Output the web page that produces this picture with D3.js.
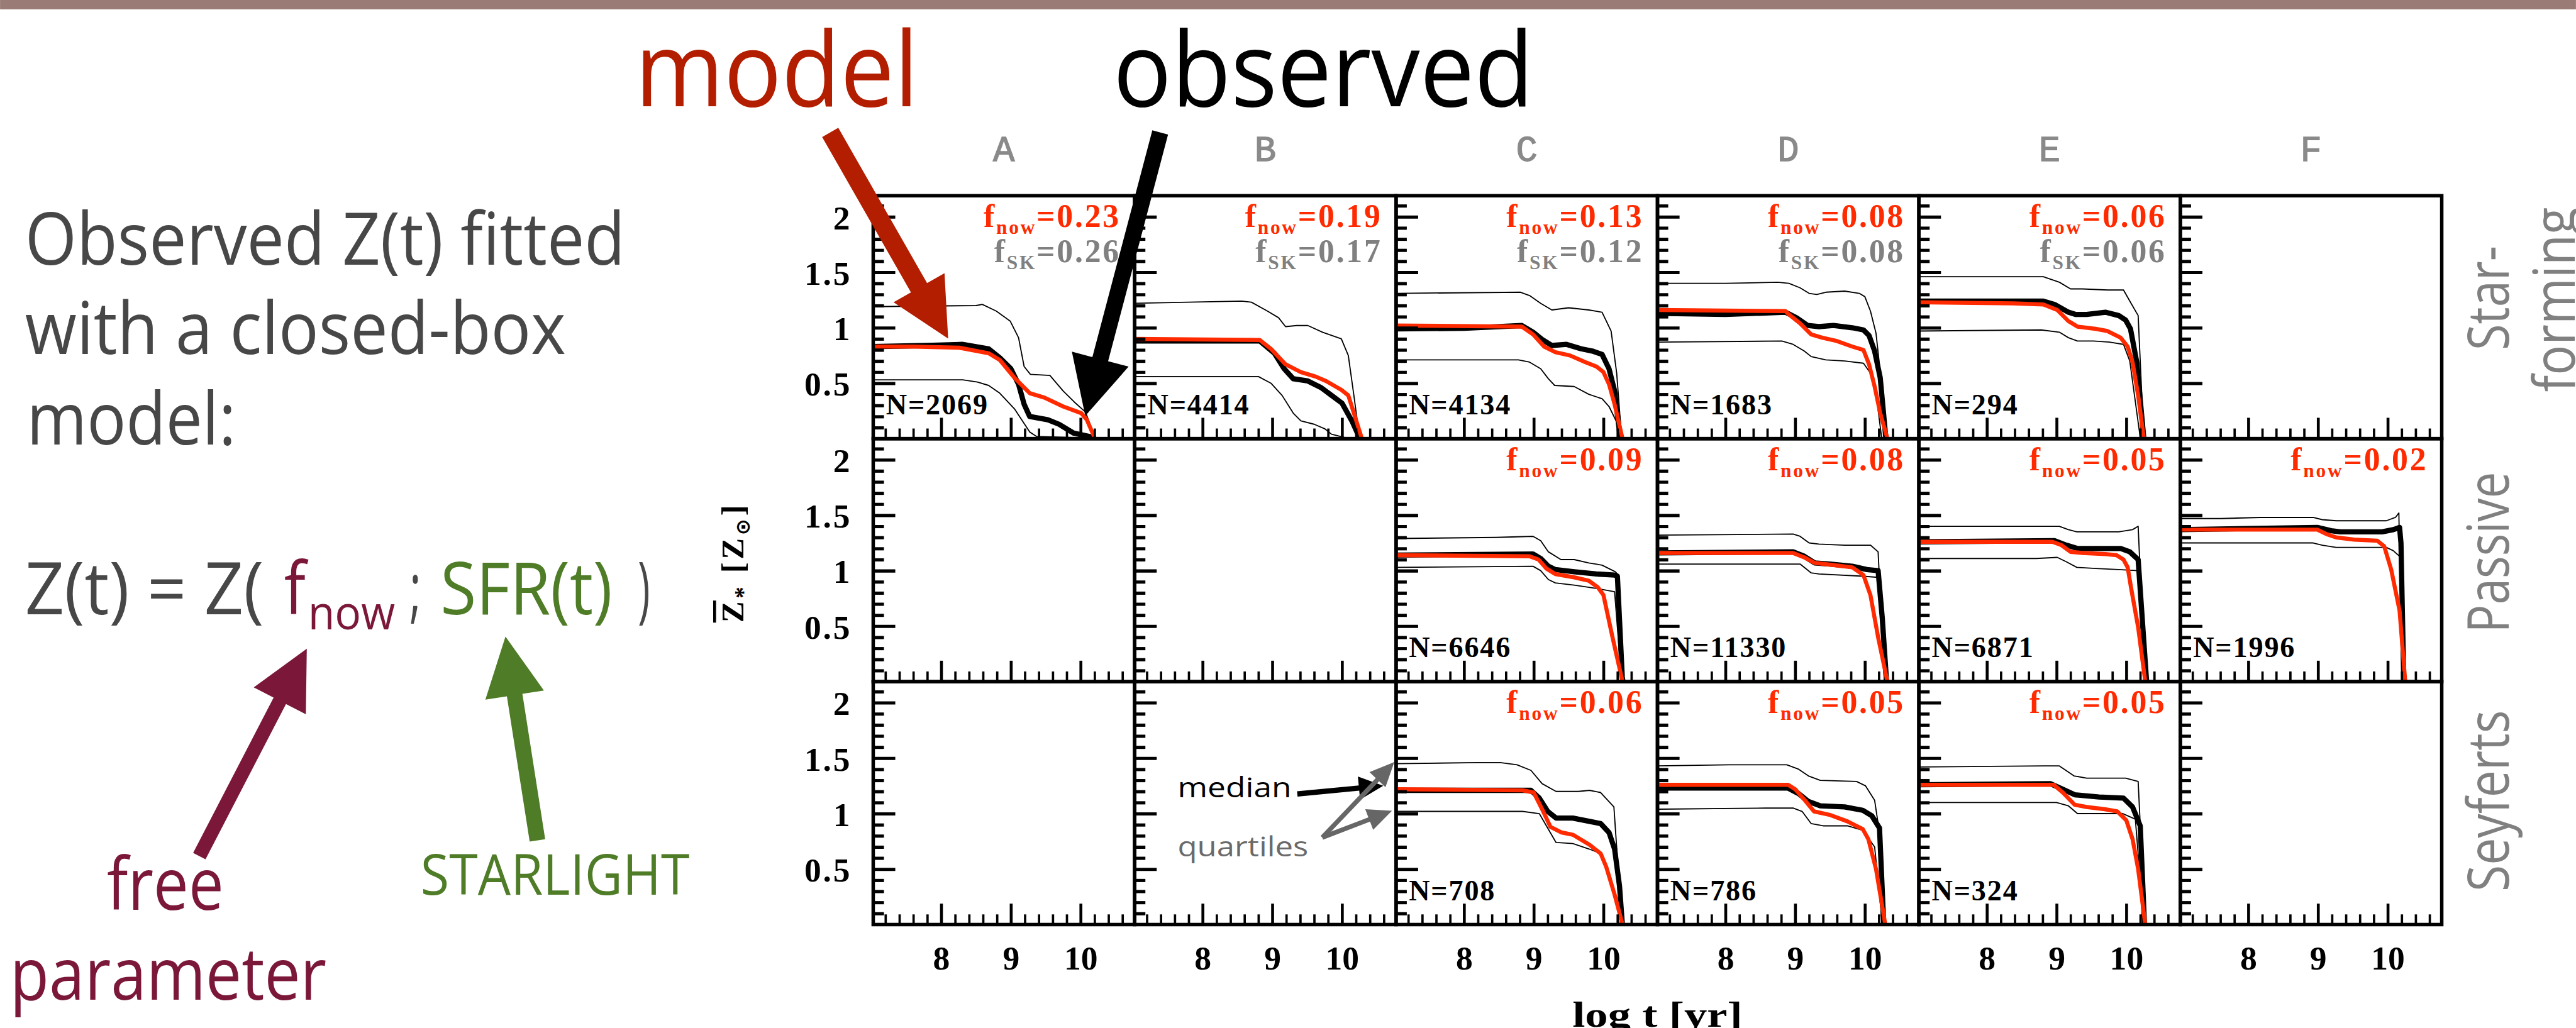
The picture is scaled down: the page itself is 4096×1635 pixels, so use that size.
<!DOCTYPE html>
<html>
<head>
<meta charset="utf-8">
<script src="https://cdn.jsdelivr.net/npm/d3@7"></script>
<style>
  body { margin: 0; background: #fff; }
  svg { display: block; }
</style>
</head>
<body>
<div id="chart"></div>
<script>
// column / row names
var colLabels = ['A', 'B', 'C', 'D', 'E', 'F'];
var rowLabels = [['Star-', 'forming'], ['Passive'], ['Seyferts']];

// fitted fractions and sample sizes, null = empty panel
var fNow = [[0.23, 0.19, 0.13, 0.08, 0.06, null],
            [null, null, 0.09, 0.08, 0.05, 0.02],
            [null, null, 0.06, 0.05, 0.05, null]];
var fSK  = [[0.26, 0.17, 0.12, 0.08, 0.06, null],
            [null, null, null, null, null, null],
            [null, null, null, null, null, null]];
var nGal = [[2069, 4414, 4134, 1683, 294, null],
            [null, null, 6646, 11330, 6871, 1996],
            [null, null, 708, 786, 324, null]];

var xMajor = [8, 9, 10];
var yMajor = [0.5, 1, 1.5, 2];

// [log t, Z]
// star-forming row
var sfA_q75 = [[7.02,1.19],[8.5,1.2],[8.59,1.21],[8.79,1.15],[8.99,1.06],[9.11,0.91],[9.19,0.65],[9.28,0.58],[9.56,0.57],[9.75,0.43],[9.91,0.33],[10.07,0.24],[10.2,0.02]];
var sfA_med = [[7.02,0.83],[7.8,0.84],[8.3,0.85],[8.68,0.81],[8.84,0.73],[9.0,0.63],[9.11,0.49],[9.19,0.31],[9.27,0.2],[9.53,0.17],[9.69,0.13],[9.9,0.05],[10.12,0.02],[10.2,0.01]];
var sfA_mod = [[7.02,0.83],[7.6,0.83],[8.26,0.82],[8.68,0.77],[8.84,0.71],[9.05,0.55],[9.27,0.41],[9.48,0.37],[9.75,0.29],[10.01,0.23],[10.09,0.17],[10.2,0.01]];
var sfA_q25 = [[7.02,0.53],[8.31,0.53],[8.52,0.51],[8.68,0.48],[8.84,0.41],[9.05,0.27],[9.27,0.06],[9.37,0.02],[9.9,0.01]];

var sfB_q75 = [[7.02,1.22],[8.56,1.24],[8.7,1.23],[8.93,1.15],[9.09,1.09],[9.19,1.01],[9.35,1.02],[9.51,1.02],[9.72,0.96],[9.99,0.9],[10.09,0.75],[10.17,0.39],[10.25,0.01]];
var sfB_med = [[7.02,0.88],[8.82,0.88],[9.03,0.77],[9.17,0.63],[9.3,0.54],[9.51,0.52],[9.7,0.46],[9.85,0.39],[10.0,0.32],[10.15,0.15],[10.25,0.01]];
var sfB_mod = [[7.02,0.9],[8.82,0.89],[8.98,0.81],[9.19,0.67],[9.41,0.6],[9.62,0.56],[9.77,0.52],[9.99,0.44],[10.09,0.39],[10.17,0.23],[10.28,0.01]];
var sfB_q25 = [[7.02,0.56],[8.8,0.56],[8.98,0.5],[9.14,0.39],[9.3,0.23],[9.41,0.16],[9.6,0.13],[9.75,0.09],[9.85,0.04],[10.04,0.01],[10.2,0.005]];

var sfC_q75 = [[7.02,1.31],[8.81,1.32],[8.94,1.29],[9.1,1.22],[9.26,1.16],[9.5,1.18],[9.79,1.16],[9.98,1.14],[10.11,0.97],[10.19,0.59],[10.26,0.01]];
var sfC_med = [[7.02,0.99],[8.0,0.995],[8.83,1.02],[8.99,0.96],[9.13,0.89],[9.26,0.84],[9.47,0.85],[9.68,0.81],[9.84,0.79],[9.98,0.76],[10.08,0.63],[10.16,0.43],[10.24,0.01]];
var sfC_mod = [[7.02,1.02],[8.83,1.01],[8.99,0.94],[9.15,0.83],[9.31,0.78],[9.52,0.75],[9.74,0.69],[9.9,0.65],[10.0,0.6],[10.08,0.49],[10.16,0.31],[10.27,0.01]];
var sfC_q25 = [[7.02,0.71],[8.78,0.71],[8.94,0.69],[9.1,0.63],[9.21,0.54],[9.3,0.48],[9.58,0.47],[9.79,0.4],[9.98,0.36],[10.08,0.29],[10.19,0.15],[10.26,0.01]];

var sfD_q75 = [[7.02,1.4],[8.0,1.4],[8.75,1.41],[8.91,1.4],[9.07,1.36],[9.2,1.31],[9.31,1.3],[9.44,1.32],[9.71,1.33],[9.92,1.31],[10.0,1.28],[10.08,1.15],[10.16,0.95],[10.24,0.49],[10.3,0.01]];
var sfD_med = [[7.02,1.13],[8.0,1.12],[8.86,1.14],[9.02,1.09],[9.18,1.02],[9.34,1.01],[9.55,1.02],[9.82,1.0],[9.98,0.98],[10.06,0.93],[10.14,0.79],[10.22,0.55],[10.3,0.01]];
var sfD_mod = [[7.02,1.16],[8.86,1.15],[8.91,1.12],[9.07,1.04],[9.23,0.94],[9.39,0.91],[9.6,0.88],[9.82,0.83],[9.98,0.8],[10.06,0.67],[10.14,0.47],[10.22,0.23],[10.32,0.01]];
var sfD_q25 = [[7.02,0.87],[8.81,0.88],[8.97,0.85],[9.13,0.79],[9.23,0.74],[9.44,0.71],[9.71,0.7],[9.98,0.68],[10.08,0.59],[10.16,0.41],[10.24,0.01]];

var sfE_q75 = [[7.02,1.46],[8.81,1.46],[9.04,1.41],[9.2,1.35],[9.37,1.35],[9.73,1.34],[9.96,1.34],[10.06,1.23],[10.17,1.11],[10.25,0.01]];
var sfE_med = [[7.02,1.24],[8.81,1.24],[8.97,1.21],[9.17,1.14],[9.27,1.12],[9.43,1.12],[9.7,1.14],[9.89,1.11],[9.99,1.07],[10.06,0.99],[10.15,0.69],[10.25,0.01]];
var sfE_mod = [[7.02,1.23],[8.38,1.22],[8.81,1.21],[9.01,1.16],[9.17,1.06],[9.3,1.01],[9.56,0.99],[9.73,0.97],[9.92,0.91],[10.02,0.83],[10.09,0.69],[10.17,0.39],[10.25,0.01]];
var sfE_q25 = [[7.02,0.97],[8.78,0.98],[9.04,0.96],[9.17,0.91],[9.3,0.88],[9.53,0.88],[9.76,0.87],[9.96,0.85],[10.05,0.7],[10.2,0.01]];

// passive row
var paC_q75 = [[7.02,1.29],[8.46,1.3],[8.99,1.31],[9.1,1.27],[9.21,1.17],[9.39,1.1],[9.58,1.1],[9.79,1.07],[9.98,1.05],[10.17,0.99],[10.2,0.97],[10.26,0.01]];
var paC_med = [[7.02,1.14],[8.99,1.15],[9.1,1.11],[9.21,1.04],[9.31,1.01],[9.58,0.99],[9.9,0.97],[10.16,0.96],[10.2,0.95],[10.27,0.04],[10.28,0.0]];
var paC_mod = [[7.02,1.14],[8.94,1.13],[9.07,1.1],[9.18,1.02],[9.31,0.97],[9.58,0.94],[9.79,0.91],[9.92,0.85],[10.0,0.78],[10.13,0.4],[10.27,0.01]];
var paC_q25 = [[7.02,1.03],[8.99,1.04],[9.1,1.0],[9.21,0.92],[9.31,0.89],[9.58,0.87],[9.9,0.84],[10.16,0.81],[10.26,0.01]];

var paD_q75 = [[7.02,1.32],[8.97,1.33],[9.07,1.31],[9.2,1.25],[9.34,1.24],[9.71,1.23],[10.08,1.23],[10.19,1.17],[10.28,0.01]];
var paD_med = [[7.02,1.16],[8.97,1.17],[9.13,1.13],[9.28,1.07],[9.5,1.06],[9.82,1.04],[10.03,1.01],[10.19,1.0],[10.25,0.57],[10.31,0.01]];
var paD_mod = [[7.02,1.16],[8.97,1.16],[9.13,1.12],[9.28,1.07],[9.55,1.05],[9.82,1.03],[9.98,0.96],[10.08,0.78],[10.19,0.4],[10.32,0.01]];
var paD_q25 = [[7.02,1.06],[9.07,1.06],[9.23,0.98],[9.34,0.97],[9.98,0.95],[10.19,0.94],[10.28,0.01]];

var paE_q75 = [[7.02,1.4],[8.1,1.4],[9.04,1.4],[9.17,1.37],[9.29,1.35],[9.89,1.35],[10.09,1.37],[10.17,1.4],[10.27,0.01]];
var paE_med = [[7.02,1.26],[8.97,1.27],[9.14,1.23],[9.3,1.2],[9.56,1.2],[9.92,1.2],[10.05,1.17],[10.17,1.1],[10.29,0.01]];
var paE_mod = [[7.02,1.26],[8.94,1.26],[9.07,1.23],[9.2,1.17],[9.37,1.16],[9.7,1.15],[9.86,1.14],[9.96,1.1],[10.02,1.03],[10.07,0.84],[10.17,0.49],[10.27,0.01]];
var paE_q25 = [[7.02,1.11],[8.71,1.11],[9.01,1.12],[9.14,1.08],[9.29,1.03],[9.56,1.02],[9.89,1.01],[10.17,1.0],[10.27,0.01]];

var paF_q75 = [[7.02,1.47],[7.61,1.47],[8.17,1.48],[8.93,1.48],[9.06,1.46],[9.26,1.45],[9.98,1.45],[10.11,1.48],[10.16,1.52],[10.17,1.13],[10.25,0.01]];
var paF_med = [[7.02,1.37],[8.99,1.39],[9.19,1.36],[9.32,1.35],[9.92,1.35],[10.08,1.37],[10.17,1.39],[10.19,1.25],[10.23,0.01]];
var paF_mod = [[7.02,1.37],[8.99,1.37],[9.12,1.33],[9.26,1.3],[9.52,1.28],[9.85,1.27],[9.95,1.22],[10.05,1.01],[10.17,0.64],[10.25,0.01]];
var paF_q25 = [[7.02,1.25],[8.93,1.25],[9.06,1.23],[9.26,1.21],[9.98,1.21],[10.08,1.18],[10.17,1.13],[10.22,0.01]];

// seyfert row
var syC_q75 = [[7.02,1.45],[8.2,1.46],[8.52,1.46],[8.76,1.44],[8.96,1.39],[9.12,1.27],[9.32,1.2],[9.64,1.2],[9.8,1.21],[9.96,1.19],[10.15,1.06],[10.2,0.6],[10.26,0.01]];
var syC_med = [[7.02,1.21],[8.96,1.21],[9.08,1.14],[9.2,1.02],[9.32,0.96],[9.56,0.96],[9.8,0.93],[9.96,0.91],[10.08,0.83],[10.16,0.68],[10.23,0.35],[10.27,0.01]];
var syC_mod = [[7.02,1.22],[8.84,1.21],[9.0,1.19],[9.12,1.04],[9.24,0.88],[9.4,0.83],[9.56,0.81],[9.8,0.72],[9.96,0.64],[10.04,0.52],[10.16,0.27],[10.27,0.01]];
var syC_q25 = [[7.02,1.02],[8.84,1.02],[9.08,1.0],[9.2,0.87],[9.32,0.74],[9.56,0.73],[9.8,0.68],[9.96,0.64],[10.1,0.4],[10.25,0.01]];

var syD_q75 = [[7.02,1.43],[8.06,1.44],[8.88,1.44],[9.05,1.4],[9.19,1.34],[9.36,1.3],[9.88,1.29],[10.01,1.25],[10.14,1.12],[10.19,0.91],[10.27,0.01]];
var syD_med = [[7.02,1.23],[8.9,1.23],[9.05,1.18],[9.19,1.11],[9.36,1.07],[9.71,1.06],[9.97,1.03],[10.1,0.98],[10.21,0.87],[10.27,0.01]];
var syD_mod = [[7.02,1.26],[8.9,1.26],[9.0,1.22],[9.14,1.12],[9.27,1.02],[9.49,0.99],[9.75,0.93],[9.97,0.86],[10.05,0.77],[10.16,0.5],[10.29,0.01]];
var syD_q25 = [[7.02,1.04],[8.58,1.05],[8.97,1.05],[9.1,1.02],[9.23,0.91],[9.4,0.89],[9.75,0.89],[9.97,0.85],[10.14,0.7],[10.25,0.01]];

var syE_q75 = [[7.02,1.42],[8.82,1.43],[9.04,1.43],[9.25,1.34],[9.43,1.32],[9.99,1.32],[10.17,1.29],[10.2,0.9],[10.26,0.01]];
var syE_med = [[7.02,1.26],[8.91,1.27],[9.09,1.22],[9.26,1.17],[9.61,1.15],[9.96,1.14],[10.09,1.06],[10.2,0.89],[10.26,0.01]];
var syE_mod = [[7.02,1.26],[8.96,1.26],[9.09,1.19],[9.26,1.08],[9.43,1.06],[9.69,1.04],[9.87,1.02],[10.0,0.94],[10.09,0.77],[10.17,0.5],[10.27,0.01]];
var syE_q25 = [[7.02,1.1],[9.0,1.1],[9.17,1.07],[9.3,1.0],[9.95,1.0],[10.13,0.95],[10.25,0.01]];

// lookup "row-col" -> [q25, q75, median, model]
var curves = {
  '0-0': [sfA_q25, sfA_q75, sfA_med, sfA_mod],
  '0-1': [sfB_q25, sfB_q75, sfB_med, sfB_mod],
  '0-2': [sfC_q25, sfC_q75, sfC_med, sfC_mod],
  '0-3': [sfD_q25, sfD_q75, sfD_med, sfD_mod],
  '0-4': [sfE_q25, sfE_q75, sfE_med, sfE_mod],
  '1-2': [paC_q25, paC_q75, paC_med, paC_mod],
  '1-3': [paD_q25, paD_q75, paD_med, paD_mod],
  '1-4': [paE_q25, paE_q75, paE_med, paE_mod],
  '1-5': [paF_q25, paF_q75, paF_med, paF_mod],
  '2-2': [syC_q25, syC_q75, syC_med, syC_mod],
  '2-3': [syD_q25, syD_q75, syD_med, syD_mod],
  '2-4': [syE_q25, syE_q75, syE_med, syE_mod]
};

// layout in reference pixels, viewBox shrinks it to the window
var W = 4434, H = 1770;
var left0 = 1503, top0 = 337, pw = 450, ph = 418.3;
var RED = '#ff2a00', GREY = '#808080';
var serif = '"Liberation Serif", "Times New Roman", serif';
var sans = '"Open Sans", "Noto Sans", sans-serif';

var svg = d3.select('#chart').append('svg')
  .attr('width', 4096).attr('height', 1635)
  .attr('viewBox', '0 0 ' + W + ' ' + H);

svg.append('rect').attr('width', W).attr('height', H).attr('fill', '#fff');
// thin band on top of the slide
svg.append('rect').attr('width', W).attr('height', 16).attr('fill', '#9b7b75');

var x = d3.scaleLinear().domain([7.025, 10.775]).range([0, pw]);
var y = d3.scaleLinear().domain([0, 2.19]).range([ph, 0]);
var line = d3.line().x(function(d){ return x(d[0]); }).y(function(d){ return y(d[1]); });

var xMinor = d3.range(7.2, 10.75, 0.2).filter(function(v){ return Math.abs(v - Math.round(v)) > 0.01; });
var yMinor = d3.range(0.1, 2.15, 0.1).filter(function(v){ return Math.abs(v * 2 - Math.round(v * 2)) > 0.01; });

var defs = svg.append('defs');

// panel label "f_sub=value"
function fLabel(g, yy, sub, val, fill) {
  var t = g.append('text').attr('x', pw - 24).attr('y', yy).attr('text-anchor', 'end')
    .attr('font-family', serif).attr('font-weight', 'bold').attr('fill', fill)
    .attr('letter-spacing', 3);
  t.append('tspan').attr('font-size', 56).text('f');
  t.append('tspan').attr('font-size', 34).attr('dy', 12).text(sub);
  t.append('tspan').attr('font-size', 56).attr('dy', -12).text('=' + val.toFixed(2));
}

for (var r = 0; r < 3; r++) {
  for (var c = 0; c < 6; c++) {
    var g = svg.append('g')
      .attr('transform', 'translate(' + (left0 + c * pw) + ',' + (top0 + r * ph) + ')');
    var clipId = 'clip' + r + c;
    defs.append('clipPath').attr('id', clipId)
      .append('rect').attr('width', pw).attr('height', ph);

    // curves
    var cv = curves[r + '-' + c];
    if (cv) {
      var lg = g.append('g').attr('clip-path', 'url(#' + clipId + ')')
        .attr('fill', 'none').attr('stroke-linejoin', 'round');
      lg.append('path').attr('d', line(cv[0])).attr('stroke', '#000').attr('stroke-width', 2);
      lg.append('path').attr('d', line(cv[1])).attr('stroke', '#000').attr('stroke-width', 2);
      lg.append('path').attr('d', line(cv[2])).attr('stroke', '#000').attr('stroke-width', 9);
      lg.append('path').attr('d', line(cv[3])).attr('stroke', RED).attr('stroke-width', 7);
    }

    // minor ticks
    g.append('g').call(d3.axisLeft(y).tickValues(yMinor).tickSize(-18.5).tickFormat(''))
      .call(function(a){ a.select('.domain').remove(); a.selectAll('line').attr('stroke-width', 5.5); });
    g.append('g').attr('transform', 'translate(0,' + ph + ')')
      .call(d3.axisBottom(x).tickValues(xMinor).tickSize(-17.5).tickFormat(''))
      .call(function(a){ a.select('.domain').remove(); a.selectAll('line').attr('stroke-width', 4); });

    // major ticks, labels only on the outer panels
    var ya = g.append('g').call(d3.axisLeft(y).tickValues(yMajor).tickSize(-38).tickPadding(37)
      .tickFormat(c === 0 ? d3.format('') : ''));
    ya.select('.domain').remove();
    ya.selectAll('line').attr('stroke-width', 5.5);
    ya.selectAll('text').attr('font-family', serif).attr('font-weight', 'bold')
      .attr('font-size', 58).attr('letter-spacing', 3).attr('dy', '0.36em').attr('fill', '#000');

    var xa = g.append('g').attr('transform', 'translate(0,' + ph + ')')
      .call(d3.axisBottom(x).tickValues(xMajor).tickSize(-36).tickPadding(36)
        .tickFormat(r === 2 ? d3.format('') : ''));
    xa.select('.domain').remove();
    xa.selectAll('line').attr('stroke-width', 5);
    xa.selectAll('text').attr('font-family', serif).attr('font-weight', 'bold')
      .attr('font-size', 58).attr('fill', '#000');

    // frame
    g.append('rect').attr('width', pw).attr('height', ph)
      .attr('fill', 'none').attr('stroke', '#000').attr('stroke-width', 6);

    // in-panel labels
    if (fNow[r][c] !== null) fLabel(g, 54, 'now', fNow[r][c], RED);
    if (fSK[r][c] !== null) fLabel(g, 114, 'SK', fSK[r][c], GREY);
    if (nGal[r][c] !== null) {
      g.append('text').attr('x', 22).attr('y', ph - 42)
        .attr('font-family', serif).attr('font-weight', 'bold').attr('font-size', 50)
        .attr('letter-spacing', 2).attr('fill', '#000')
        .text('N=' + nGal[r][c]);
    }
  }
}

// column letters
svg.selectAll('text.col').data(colLabels).enter().append('text')
  .attr('class', 'col')
  .attr('x', function(d, i){ return left0 + i * pw + pw / 2; })
  .attr('y', 277).attr('text-anchor', 'middle')
  .attr('font-family', '"Liberation Mono", "DejaVu Sans Mono", monospace')
  .attr('font-size', 62).attr('fill', '#8a8a8a')
  .attr('stroke', '#8a8a8a').attr('stroke-width', 1.5)
  .text(function(d){ return d; });

// row names on the right
function rotText(px, py, str, len) {
  svg.append('text').attr('transform', 'translate(' + px + ',' + py + ') rotate(-90)')
    .attr('text-anchor', 'middle').attr('font-family', sans).attr('font-size', 100)
    .attr('fill', GREY).attr('textLength', len).attr('lengthAdjust', 'spacingAndGlyphs')
    .text(str);
}
rotText(4318, 513, rowLabels[0][0], 180);
rotText(4432, 516, rowLabels[0][1], 318);
rotText(4318, 951, rowLabels[1][0], 277);
rotText(4318, 1379, rowLabels[2][0], 312);

// axis titles
var yt = svg.append('g').attr('transform', 'translate(1280,966) rotate(-90)');
var ytt = yt.append('text').attr('x', -106).attr('y', 0)
  .attr('font-family', serif).attr('font-weight', 'bold').attr('letter-spacing', 5).attr('fill', '#000');
ytt.append('tspan').attr('font-size', 55).text('Z');
ytt.append('tspan').attr('font-size', 40).attr('dy', 12).text('*');
ytt.append('tspan').attr('font-size', 55).attr('dy', -12).text(' [Z');
ytt.append('tspan').attr('font-size', 34).attr('dy', 10).attr('font-family', '"DejaVu Sans", sans-serif').text('\u2299');
ytt.append('tspan').attr('font-size', 55).attr('dy', -10).text(']');
yt.append('line').attr('x1', -106).attr('x2', -68).attr('y1', -50).attr('y2', -50)
  .attr('stroke', '#000').attr('stroke-width', 5);

svg.append('text').attr('x', left0 + 3 * pw).attr('y', 1768).attr('text-anchor', 'middle')
  .attr('font-family', serif).attr('font-weight', 'bold').attr('font-size', 62)
  .attr('textLength', 293).attr('lengthAdjust', 'spacingAndGlyphs')
  .text('log t [yr]');

// arrows used for the annotations
function arrow(tail, tip, sw, hl, hw, fill) {
  var dx = tip[0] - tail[0], dy = tip[1] - tail[1];
  var L = Math.sqrt(dx * dx + dy * dy);
  var ux = dx / L, uy = dy / L, px = -uy, py = ux;
  var bx = tip[0] - ux * hl, by = tip[1] - uy * hl;
  var pts = [
    [tail[0] + px * sw / 2, tail[1] + py * sw / 2],
    [bx + px * sw / 2, by + py * sw / 2],
    [bx + px * hw / 2, by + py * hw / 2],
    tip,
    [bx - px * hw / 2, by - py * hw / 2],
    [bx - px * sw / 2, by - py * sw / 2],
    [tail[0] - px * sw / 2, tail[1] - py * sw / 2]
  ];
  svg.append('polygon').attr('points', pts.map(function(p){ return p.join(','); }).join(' '))
    .attr('fill', fill);
}

// model / observed call-outs
svg.append('text').attr('x', 1093).attr('y', 183).attr('font-family', sans).attr('font-size', 179)
  .attr('fill', '#b31d00').attr('textLength', 488).attr('lengthAdjust', 'spacingAndGlyphs').text('model');
svg.append('text').attr('x', 1916).attr('y', 183).attr('font-family', sans).attr('font-size', 179)
  .attr('fill', '#000').attr('textLength', 724).attr('lengthAdjust', 'spacingAndGlyphs').text('observed');
arrow([1429, 228], [1632, 583], 32, 101, 101, '#b31d00');
arrow([1997, 228], [1868, 716], 28, 101, 101, '#000');

// median / quartiles key
svg.append('text').attr('x', 2027).attr('y', 1373).attr('font-family', sans).attr('font-size', 48)
  .attr('fill', '#000').attr('textLength', 196).attr('lengthAdjust', 'spacingAndGlyphs').text('median');
svg.append('text').attr('x', 2027).attr('y', 1474).attr('font-family', sans).attr('font-size', 48)
  .attr('fill', '#6a6a6a').attr('textLength', 225).attr('lengthAdjust', 'spacingAndGlyphs').text('quartiles');
arrow([2233, 1367], [2381, 1353], 9, 42, 40, '#000');
arrow([2276, 1442], [2400, 1312], 8, 42, 38, '#666');
arrow([2276, 1442], [2396, 1396], 8, 42, 38, '#666');

// left-hand explanation
var DARK = '#474747', MAROON = '#7b1839', GREEN = '#4f7c27';
function ltext(px, py, str, size, fill, len) {
  var t = svg.append('text').attr('x', px).attr('y', py).attr('font-family', sans)
    .attr('font-size', size).attr('fill', fill).text(str);
  if (len) t.attr('textLength', len).attr('lengthAdjust', 'spacingAndGlyphs');
  return t;
}
ltext(43, 456, 'Observed Z(t) fitted', 125, DARK, 1033);
ltext(43, 610, 'with a closed-box', 125, DARK, 931);
ltext(46, 765, 'model:', 125, DARK, 360);
ltext(43, 1058, 'Z(t) = Z(', 125, DARK, 411);
ltext(489, 1058, 'f', 125, MAROON, 37);
ltext(530, 1084, 'now', 82, MAROON, 150);
ltext(705, 1058, ';', 125, DARK, 20);
ltext(758, 1058, 'SFR(t)', 125, GREEN, 296);
ltext(1098, 1058, ')', 125, DARK, 21);
ltext(184, 1566, 'free', 125, MAROON, 201);
ltext(17, 1721, 'parameter', 125, MAROON, 545);
ltext(724, 1540, 'STARLIGHT', 97, GREEN, 463);
arrow([343, 1474], [528, 1117], 24, 101, 101, MAROON);
arrow([925, 1447], [870, 1096], 27, 102, 102, GREEN);
</script>
</body>
</html>
